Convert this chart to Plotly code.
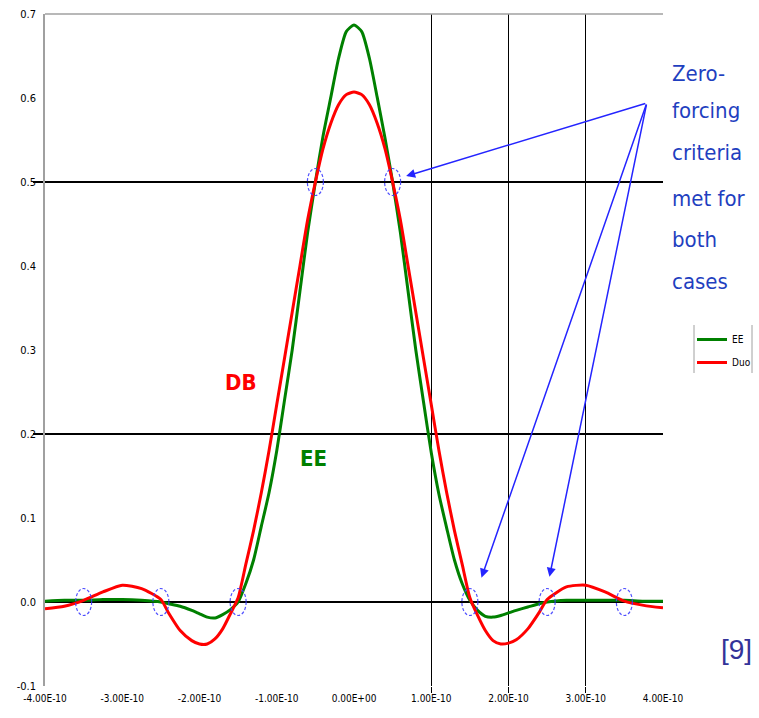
import plotly.graph_objects as go

# time axis in units of 1e-10 s
t_e10 = [-4.0, -3.75, -3.5, -3.25, -3.0, -2.75, -2.5, -2.4, -2.25, -2.1, -2.0, -1.9, -1.8, -1.7, -1.6,
         -1.5, -1.4, -1.3, -1.2, -1.1, -1.0, -0.9, -0.8, -0.7, -0.6, -0.5, -0.4, -0.3, -0.2, -0.1,
         0.0, 0.1, 0.2, 0.3, 0.4, 0.5, 0.6, 0.7, 0.8, 0.9, 1.0, 1.1, 1.2, 1.3, 1.4, 1.5,
         1.6, 1.7, 1.8, 1.9, 2.0, 2.1, 2.25, 2.4, 2.5, 2.75, 3.0, 3.25, 3.5, 3.75, 4.0]

ee = [0.001, 0.002, 0.002, 0.003, 0.003, 0.002, 0.000, -0.002, -0.005, -0.010, -0.014, -0.018, -0.019, -0.015, -0.009,
      0.000, 0.022, 0.050, 0.090, 0.130, 0.180, 0.240, 0.300, 0.370, 0.440, 0.500, 0.555, 0.601, 0.647, 0.679,
      0.687, 0.679, 0.647, 0.601, 0.553, 0.500, 0.440, 0.370, 0.300, 0.238, 0.178, 0.128, 0.088, 0.050, 0.022, 0.002,
      -0.010, -0.017, -0.018, -0.016, -0.013, -0.010, -0.006, -0.002, 0.000, 0.002, 0.002, 0.002, 0.002, 0.001, 0.001]

duo = [-0.008, -0.005, 0.002, 0.012, 0.020, 0.016, 0.003, -0.013, -0.034, -0.046, -0.050, -0.050, -0.044, -0.032, -0.014,
       0.005, 0.045, 0.085, 0.130, 0.180, 0.235, 0.290, 0.345, 0.400, 0.455, 0.500, 0.540, 0.570, 0.592, 0.604,
       0.607, 0.604, 0.592, 0.570, 0.540, 0.500, 0.455, 0.400, 0.345, 0.290, 0.235, 0.180, 0.130, 0.085, 0.045, 0.005,
       -0.016, -0.034, -0.046, -0.050, -0.049, -0.045, -0.032, -0.012, 0.003, 0.018, 0.020, 0.012, 0.001, -0.004, -0.007]

x_tick_vals_e10 = [-4, -3, -2, -1, 0, 1, 2, 3, 4]
x_tick_text = ["-4.00E-10", "-3.00E-10", "-2.00E-10", "-1.00E-10", "0.00E+00",
               "1.00E-10", "2.00E-10", "3.00E-10", "4.00E-10"]
y_tick_vals = [-0.1, 0.0, 0.1, 0.2, 0.3, 0.4, 0.5, 0.6, 0.7]
y_tick_text = ["-0.1", "0.0", "0.1", "0.2", "0.3", "0.4", "0.5", "0.6", "0.7"]
x_grid_e10 = [1, 2, 3]
y_grid = [0.2, 0.5]

# zero-forcing check points (circled)
zf_x_e10 = [-3.5, -2.5, -1.5, -0.5, 0.5, 1.5, 2.5, 3.5]
zf_y = [0.0, 0.0, 0.0, 0.5, 0.5, 0.0, 0.0, 0.0]

# arrows: common tail and heads
arrow_tail = (3.79, 0.594)
arrow_heads = [(0.675, 0.507), (1.65, 0.029), (2.53, 0.030)]

S = 1e-10
t = [v * S for v in t_e10]

NARROW = "Liberation Sans Narrow, Arial Narrow, DejaVu Sans Condensed, Liberation Sans, Arial, sans-serif"

fig = go.Figure()
fig.add_trace(go.Scatter(x=t, y=ee, mode="lines", name="EE", legendgroup="a",
                         line=dict(color="#008000", width=3, shape="spline", smoothing=0.6)))
fig.add_trace(go.Scatter(x=t, y=duo, mode="lines", name="Duo", legendgroup="b",
                         line=dict(color="#ff0000", width=3, shape="spline", smoothing=0.6)))

shapes = []
for xv, yv in zip(zf_x_e10, zf_y):
    shapes.append(dict(type="circle", xref="x", yref="y",
                       xsizemode="pixel", ysizemode="pixel",
                       xanchor=xv * S, yanchor=yv,
                       x0=-8, x1=8, y0=-13.5, y1=13.5,
                       line=dict(color="rgba(60,60,255,0.9)", width=1.2, dash="3px,2px")))
# top frame line
shapes.append(dict(type="line", xref="paper", yref="paper", x0=0, x1=1, y0=1, y1=1,
                   line=dict(color="#a0a0a0", width=1.5)))
# legend side borders
for lx in [(694 - 45) / 618, (752 - 45) / 618]:
    shapes.append(dict(type="line", xref="paper", yref="paper", x0=lx, x1=lx,
                       y0=(686 - 373) / 672, y1=(686 - 325) / 672,
                       line=dict(color="#a0a0a0", width=1)))

annotations = []
for hx, hy in arrow_heads:
    annotations.append(dict(x=hx * S, y=hy, xref="x", yref="y",
                            ax=arrow_tail[0] * S, ay=arrow_tail[1], axref="x", ayref="y",
                            text="", showarrow=True, arrowhead=2, arrowsize=1.2,
                            arrowwidth=1.5, arrowcolor="#2424ff", standoff=0))

zf_lines = ["Zero-", "forcing", "criteria", "met for", "both", "cases"]
zf_centers_px = [73, 110, 152, 198, 239, 281]
for txt, cy in zip(zf_lines, zf_centers_px):
    annotations.append(dict(x=(670 - 45) / 618, y=(686 - cy) / 672, xref="paper", yref="paper",
                            xanchor="left", yanchor="middle", showarrow=False, text=txt,
                            font=dict(family=NARROW, size=22, color="#1f3fbf")))

annotations.append(dict(x=-1.46 * S, y=0.261, xref="x", yref="y", text="<b>DB</b>", showarrow=False,
                        xanchor="center", yanchor="middle",
                        font=dict(family=NARROW, size=22, color="#ff0000")))
annotations.append(dict(x=-0.53 * S, y=0.171, xref="x", yref="y", text="<b>EE</b>", showarrow=False,
                        xanchor="center", yanchor="middle",
                        font=dict(family=NARROW, size=22, color="#008000")))
annotations.append(dict(x=(736 - 45) / 618, y=(686 - 649) / 672, xref="paper", yref="paper",
                        xanchor="center", yanchor="middle", text="[9]", showarrow=False,
                        font=dict(family="Liberation Sans, Arial, sans-serif", size=28, color="#333399")))

fig.update_layout(
    width=759, height=718,
    margin=dict(l=45, r=96, t=14, b=32, autoexpand=False),
    paper_bgcolor="white", plot_bgcolor="white",
    showlegend=True,
    legend=dict(x=(692 - 45) / 618, y=(686 - 325) / 672,
                xanchor="left", yanchor="top",
                font=dict(family=NARROW, size=10, color="black"),
                bgcolor="rgba(0,0,0,0)", tracegroupgap=4, itemwidth=30),
    shapes=shapes,
    annotations=annotations,
    xaxis=dict(range=[-4 * S, 4 * S], tickmode="array",
               tickvals=[v * S for v in x_tick_vals_e10], ticktext=x_tick_text,
               showgrid=False, zeroline=False, showline=False, ticks="",
               tickfont=dict(family=NARROW, size=10, color="black"),
               ticklabelstandoff=5,
               minor=dict(tickvals=[v * S for v in x_grid_e10], showgrid=True,
                          gridcolor="black", gridwidth=1, ticks="outside",
                          ticklen=6, tickcolor="black", tickwidth=1)),
    yaxis=dict(range=[-0.1, 0.7], tickmode="array", tickvals=y_tick_vals, ticktext=y_tick_text,
               showgrid=False, zeroline=True, zerolinecolor="black", zerolinewidth=1.5,
               showline=True, linecolor="#a0a0a0", linewidth=1.5, ticks="",
               tickfont=dict(family=NARROW, size=11, color="black"),
               ticklabelstandoff=5,
               minor=dict(tickvals=y_grid, showgrid=True, gridcolor="black", gridwidth=1.5,
                          ticks="outside", ticklen=10, tickcolor="black", tickwidth=1.5)),
)

fig.write_html("out.html")
